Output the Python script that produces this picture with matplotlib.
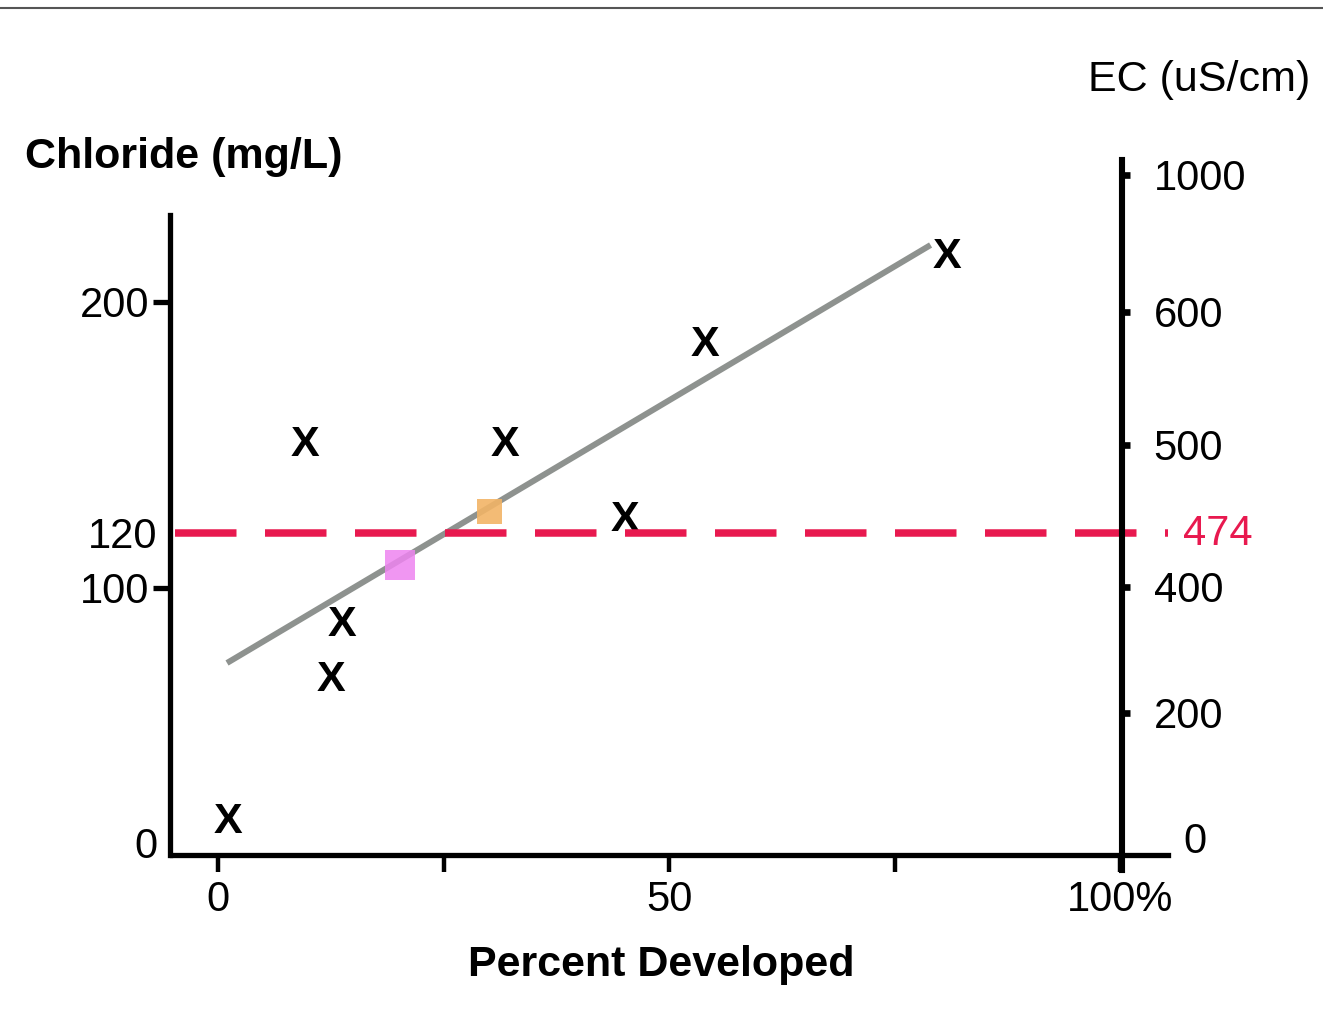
import numpy as np
import matplotlib
matplotlib.use("Agg")
import matplotlib.pyplot as plt
from matplotlib.lines import Line2D

plt.rcParams['font.family'] = ['Liberation Sans', 'DejaVu Sans']

# data
pct_developed = [1.1, 9.6, 12.5, 13.7, 31.8, 45.1, 54.0, 80.8]
chloride = [8.2, 150.5, 63.9, 85.5, 150.5, 124.5, 185.1, 216.7]
trend_x = [1.0, 79.0]
trend_y = [70.6, 221.1]
orange_pt = (30.0, 127.6)
pink_pt = (20.2, 108.4)
chloride_limit = 120
ec_limit = 474

x_major = [0, 50, 100]
x_labels = ['0', '50', '100%']
x_minor = [25, 75]
cl_major = [200, 100]
cl_minor = [0, 120]
ec_major = [200, 400, 500, 600, 1000]
ec_minor = [0, ec_limit]

RED = '#e8194f'


def sketch_scale(vals, rows):
    # the hand drawn axes are not evenly spaced, map values to picture rows
    vals = np.asarray(vals, float)
    rows = -np.asarray(rows, float)
    return (lambda v: np.interp(v, vals, rows),
            lambda r: np.interp(r, rows, vals))


cl_fwd, cl_inv = sketch_scale([-30, 0, 100, 120, 200, 280],
                              [913.5, 843, 588, 533, 302, 86])
ec_fwd, ec_inv = sketch_scale([-100, 0, 200, 400, 474, 500, 600, 1000, 1100],
                              [900, 838, 713, 587, 530, 445, 312, 175, 140])

fig = plt.figure(figsize=(13.23, 10.15), dpi=100)
ax = fig.add_axes([170 / 1323, 1 - 870 / 1015, 1000 / 1323, 710 / 1015])
ax.set_xlim((170 - 218) / 9.02, (1170 - 218) / 9.02)
ax.set_yscale('function', functions=(cl_fwd, cl_inv))
ax.set_ylim(cl_inv(-870.0), cl_inv(-160.0))
ax.patch.set_alpha(0)

ax2 = ax.twinx()
ax2.set_yscale('function', functions=(ec_fwd, ec_inv))
ax2.set_ylim(ec_inv(-870.0), ec_inv(-160.0))

# spines
for s in ['top', 'right']:
    ax.spines[s].set_visible(False)
for s in ['top', 'left', 'bottom']:
    ax2.spines[s].set_visible(False)
ax.spines['left'].set_linewidth(3.8)
ax.spines['left'].set_bounds(cl_inv(-855.0), cl_inv(-215.0))
ax.spines['bottom'].set_linewidth(3.8)
ax.spines['bottom'].set_position(('data', float(cl_inv(-855.0))))
ax.spines['bottom'].set_bounds((172 - 218) / 9.02, (1168 - 218) / 9.02)
ax2.spines['right'].set_linewidth(4.4)
ax2.spines['right'].set_position(('data', 100.2))

# ticks
ax.set_xticks(x_major, x_labels)
ax.set_xticks(x_minor, minor=True)
ax.tick_params(axis='x', which='both', direction='out', length=12, width=3.2,
               labelsize=30, pad=6)
ax.set_yticks(cl_major, [str(v) for v in cl_major])
ax.set_yticks(cl_minor, [str(v) for v in cl_minor], minor=True)
ax.tick_params(axis='y', which='major', direction='out', length=12, width=3.8,
               labelsize=30, pad=3)
ax.tick_params(axis='y', which='minor', length=0, labelsize=30, pad=9)

ax2.set_yticks(ec_major, [str(v) for v in ec_major])
ax2.set_yticks(ec_minor, [str(v) for v in ec_minor], minor=True)
ax2.tick_params(axis='y', which='major', direction='out', length=6, width=4.8,
                labelsize=30, pad=17)
ax2.tick_params(axis='y', which='minor', length=0, labelsize=30, pad=44)
ax2.get_yticklabels(minor=True)[1].set_color(RED)

# marks
ax.plot(trend_x, trend_y, color='#8e928f', linewidth=4.3, solid_capstyle='butt', zorder=2)
ax.plot(*pink_pt, marker='s', markersize=21, color='#ee84f0', alpha=0.85,
        markeredgewidth=0, zorder=3)
ax.plot(*orange_pt, marker='s', markersize=18, color='#f2b466', alpha=0.9,
        markeredgewidth=0, zorder=3)
for x, y in zip(pct_developed, chloride):
    ax.text(x, y, 'X', ha='center', va='center', fontsize=31,
            fontweight='bold', zorder=3)
ax.plot([(175 - 218) / 9.02, (1168 - 218) / 9.02], [chloride_limit] * 2,
        color=RED, linewidth=5.4, linestyle=(0, (8.2, 3.8)), zorder=4)

# labels
fig.text(25 / 1323, 1 - 157 / 1015, 'Chloride (mg/L)', ha='left', va='center',
         fontsize=31, fontweight='bold')
fig.text(1310 / 1323, 1 - 80 / 1015, 'EC (uS/cm)', ha='right', va='center',
         fontsize=31)
fig.text(661 / 1323, 1 - 965 / 1015, 'Percent Developed', ha='center', va='center',
         fontsize=31, fontweight='bold')
fig.add_artist(Line2D([0, 1], [1 - 8 / 1015] * 2, transform=fig.transFigure,
                      color='#555555', linewidth=1.5))

fig.savefig('out.png', dpi=100)
